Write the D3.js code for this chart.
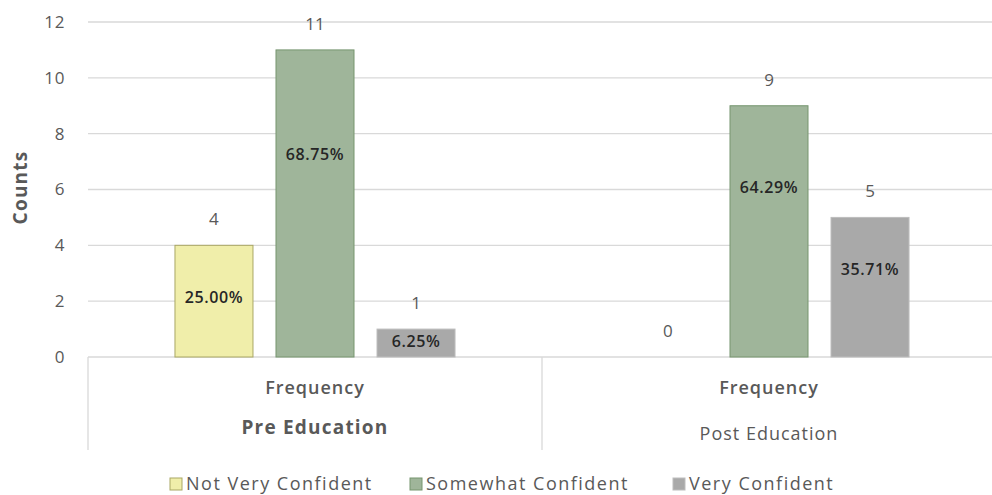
<!DOCTYPE html>
<html>
<head>
<meta charset="utf-8">
<script src="https://cdn.jsdelivr.net/npm/d3@7"></script>
<style>
  body { margin: 0; background: #fff; }
  text { font-family: "Open Sans", sans-serif; fill: #595959; }
</style>
</head>
<body>
<div id="chart"></div>
<script>
const groups = ["Pre Education", "Post Education"];
const subLabel = "Frequency";
const series = ["Not Very Confident", "Somewhat Confident", "Very Confident"];
const counts = [[4, 11, 1], [0, 9, 5]];
const percents = [["25.00%", "68.75%", "6.25%"], [null, "64.29%", "35.71%"]];
// where Excel placed the percent labels, in axis units
const pctAt = [[2.15, 7.24, 0.57], [null, 6.09, 3.15]];
const yTicks = [0, 2, 4, 6, 8, 10, 12];

const colors = ["#F0EEAA", "#9FB59A", "#A9A9A9"];
const strokes = ["#A9A765", "#76956F", "#BDBDBD"];

const width = 992, height = 495;
const svg = d3.select("#chart").append("svg").attr("width", width).attr("height", height);

const y = d3.scaleLinear().domain([0, 12]).range([357, 22]);
const x0 = d3.scaleBand().domain(groups).range([88, 996]);
const x1 = d3.scaleBand().domain(series).range([0, x0.bandwidth()])
  .paddingInner(0.218).paddingOuter(0.856);

// gridlines
svg.append("g").selectAll("line").data(yTicks).enter().append("line")
  .attr("x1", 88).attr("x2", 996)
  .attr("y1", d => y(d)).attr("y2", d => y(d))
  .attr("stroke", "#D9D9D9").attr("stroke-width", 1.3);

// tick labels
svg.append("g").selectAll("text").data(yTicks).enter().append("text")
  .attr("x", 65).attr("y", d => y(d)).attr("dy", "0.35em")
  .attr("text-anchor", "end").style("font-size", "17px").style("letter-spacing", "0.6px")
  .text(d => d);

// axis title
svg.append("text")
  .attr("transform", "translate(20," + (y(6) - 2) + ") rotate(-90)")
  .attr("text-anchor", "middle").attr("dy", "0.35em")
  .style("font-size", "19px").style("font-weight", "bold").style("letter-spacing", "1.2px")
  .text("Counts");

// category box lines
svg.append("g").selectAll("line").data(groups.concat(["end"])).enter().append("line")
  .attr("x1", (d, i) => 88 + i * x0.bandwidth()).attr("x2", (d, i) => 88 + i * x0.bandwidth())
  .attr("y1", y(0)).attr("y2", 450)
  .attr("stroke", "#D9D9D9").attr("stroke-width", 1.3);

const g = svg.append("g").selectAll("g").data(groups).enter().append("g")
  .attr("transform", d => "translate(" + x0(d) + ",0)");

g.each(function (grp, gi) {
  const sel = d3.select(this);
  const rows = series.map((s, si) => ({ s, si, v: counts[gi][si], p: percents[gi][si], at: pctAt[gi][si] }));

  sel.selectAll("rect").data(rows.filter(d => d.v > 0)).enter().append("rect")
    .attr("x", d => x1(d.s) + 0.5).attr("width", x1.bandwidth() - 1)
    .attr("y", d => y(d.v)).attr("height", d => y(0) - y(d.v))
    .attr("fill", d => colors[d.si]).attr("stroke", d => strokes[d.si]).attr("stroke-width", 1);

  sel.selectAll("text.val").data(rows).enter().append("text").attr("class", "val")
    .attr("x", d => x1(d.s) + x1.bandwidth() / 2).attr("y", d => y(d.v) - 20)
    .attr("text-anchor", "middle").style("font-size", "17px")
    .text(d => d.v);

  sel.selectAll("text.pct").data(rows.filter(d => d.p)).enter().append("text").attr("class", "pct")
    .attr("x", d => x1(d.s) + x1.bandwidth() / 2).attr("y", d => y(d.at)).attr("dy", "0.35em")
    .attr("text-anchor", "middle").style("font-size", "16px").style("font-weight", "600")
    .style("letter-spacing", "0.6px").style("fill", "#262626")
    .text(d => d.p);

  sel.append("text")
    .attr("x", x0.bandwidth() / 2).attr("y", 388).attr("dy", "0.35em")
    .attr("text-anchor", "middle").style("font-size", "18px").style("font-weight", "600")
    .style("letter-spacing", "1px")
    .text(subLabel);

  sel.append("text")
    .attr("x", x0.bandwidth() / 2).attr("y", gi === 0 ? 427 : 434).attr("dy", "0.35em")
    .attr("text-anchor", "middle").style("font-size", gi === 0 ? "19px" : "18px")
    .style("font-weight", gi === 0 ? "bold" : "normal")
    .style("letter-spacing", gi === 0 ? "1.2px" : "1px")
    .text(grp);
});

// legend
const legendX = [170, 410, 673];
const lg = svg.append("g").selectAll("g").data(series).enter().append("g")
  .attr("transform", (d, i) => "translate(" + legendX[i] + ",478)");
lg.append("rect").attr("width", 12).attr("height", 12)
  .attr("fill", (d, i) => colors[i]).attr("stroke", (d, i) => strokes[i]);
lg.append("text").attr("x", 16).attr("y", 6).attr("dy", "0.35em")
  .style("font-size", "18px").style("letter-spacing", "1.5px").text(d => d);
</script>
</body>
</html>
